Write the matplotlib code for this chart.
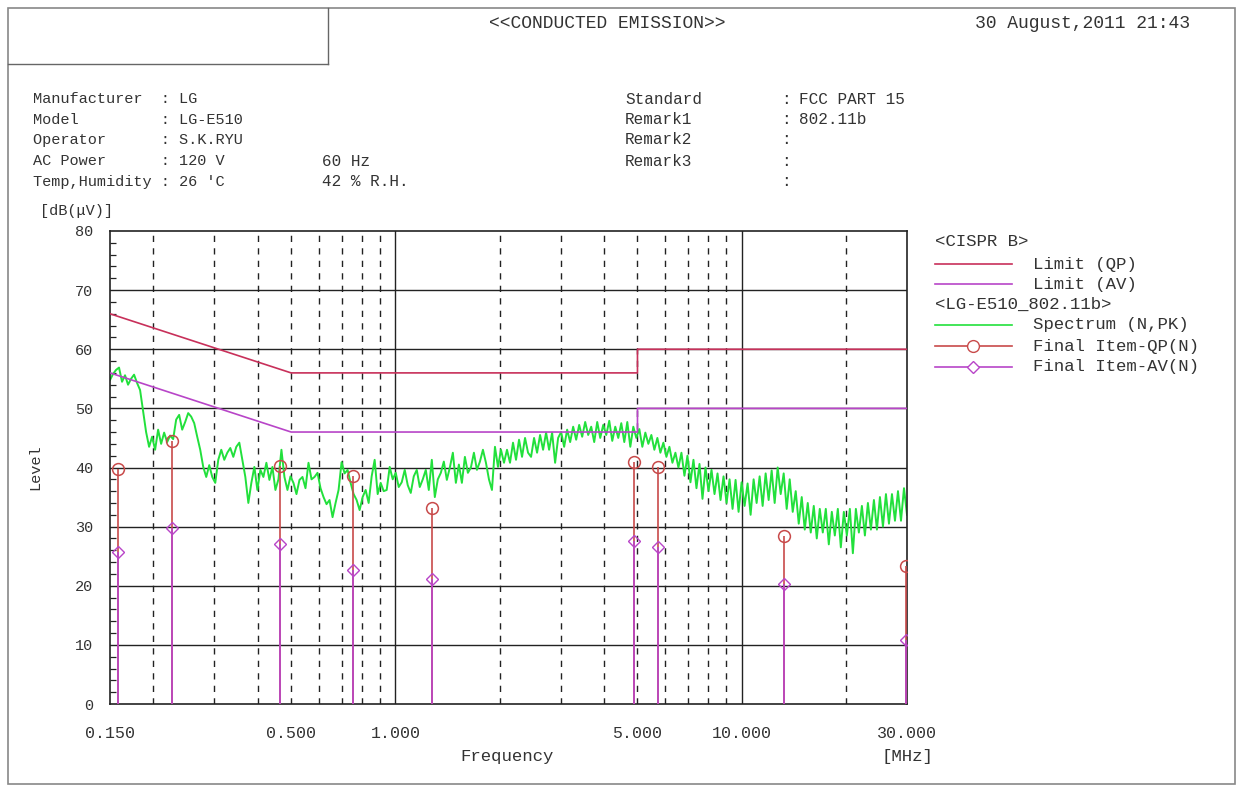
import numpy as np
import matplotlib
matplotlib.use("Agg")
import matplotlib.pyplot as plt
from matplotlib.lines import Line2D
from matplotlib.patches import Rectangle

plt.rcParams['font.family'] = ['Liberation Mono', 'DejaVu Sans Mono']

# limits (CISPR B)
limit_freq = [0.15, 0.5, 5.0, 5.0, 30.0]
limit_qp = [66, 56, 56, 60, 60]
limit_av = [56, 46, 46, 50, 50]

# final measurement items
final_freq = [0.158, 0.227, 0.465, 0.756, 1.277, 4.87, 5.72, 13.2, 29.8]
final_qp = [39.7, 44.4, 40.3, 38.5, 33.2, 41.0, 40.1, 28.4, 23.4]
final_av = [25.7, 29.7, 27.1, 22.7, 21.1, 27.6, 26.5, 20.3, 10.9]

# spectrum sweep 0.15 - 30 MHz (peak, N)
spec_start, spec_stop = 0.15, 30.0
spec_level = [
    54.8, 55.8, 56.5, 56.9, 54.5, 55.6, 54.0, 55.0, 55.7, 54.3,
    53.1, 49.5, 46.0, 43.5, 45.2, 43.0, 46.4, 44.0, 45.9, 44.3,
    45.4, 44.8, 48.1, 48.9, 46.4, 47.7, 49.2, 48.6, 47.5, 45.2,
    43.0, 40.1, 38.4, 40.4, 38.4, 37.4, 41.3, 43.0, 41.3, 42.5,
    43.3, 41.8, 43.5, 44.2, 41.3, 38.4, 34.0, 37.4, 40.1, 36.2,
    39.6, 38.4, 40.8, 37.9, 40.1, 36.2, 38.0, 43.0, 38.4, 36.2,
    38.5, 37.4, 35.5, 37.9, 38.4, 36.5, 40.8, 38.0, 38.4, 39.1,
    36.5, 35.0, 33.8, 34.5, 31.6, 34.0, 36.2, 40.9, 39.0, 39.6,
    37.4, 35.5, 34.5, 32.8, 35.0, 36.2, 34.0, 38.5, 41.3, 35.5,
    37.4, 36.0, 36.2, 40.1, 38.0, 39.1, 36.7, 37.5, 39.6, 37.0,
    35.7, 38.5, 39.6, 36.7, 38.0, 39.6, 36.2, 41.3, 35.0, 38.0,
    39.1, 41.0, 37.9, 40.0, 42.5, 37.4, 40.5, 37.4, 41.8, 39.1,
    40.0, 42.5, 39.6, 41.0, 43.0, 40.8, 38.0, 36.2, 43.5, 40.1,
    43.0, 40.8, 43.0, 40.8, 44.2, 41.3, 44.7, 41.8, 45.0, 42.5,
    41.8, 45.0, 42.5, 45.5, 43.0, 45.9, 43.0, 45.9, 40.8, 45.0,
    46.0, 43.5, 46.4, 44.3, 46.9, 44.7, 47.2, 45.2, 47.7, 45.5,
    46.9, 44.3, 47.7, 45.0, 47.2, 45.5, 47.9, 44.5, 46.9, 45.0,
    47.5, 44.3, 47.7, 43.5, 46.9, 45.0, 46.5, 43.5, 45.9, 44.0,
    45.5, 43.0, 45.0, 42.5, 44.2, 41.8, 43.5, 40.8, 42.5, 40.0,
    42.5, 38.6, 42.0, 37.5, 41.3, 36.5, 40.6, 34.7, 40.0, 36.0,
    39.6, 35.5, 39.0, 34.5, 38.5, 34.0, 38.0, 33.0, 37.9, 32.5,
    37.5, 33.5, 37.3, 32.0, 38.0, 34.0, 38.5, 33.5, 39.0, 34.5,
    39.5, 34.0, 40.0, 35.5, 39.0, 33.0, 38.0, 32.5, 36.0, 30.5,
    35.0, 29.5, 34.0, 29.0, 33.5, 28.0, 33.0, 29.0, 33.0, 27.0,
    32.5, 28.5, 33.0, 26.5, 32.5, 28.5, 33.0, 25.5, 33.0, 29.0,
    33.5, 28.5, 34.0, 29.5, 34.5, 29.5, 35.0, 30.0, 35.5, 30.5,
    35.5, 31.0, 36.0, 31.0, 36.5, 32.0,
]
spec_freq = np.geomspace(spec_start, spec_stop, len(spec_level))

xtick_vals = [0.15, 0.5, 1.0, 5.0, 10.0, 30.0]
xtick_labels = ['0.150', '0.500', '1.000', '5.000', '10.000', '30.000']
solid_vlines = [1.0, 10.0]
dashed_vlines = [0.2, 0.3, 0.4, 0.5, 0.6, 0.7, 0.8, 0.9,
                 2, 3, 4, 5, 6, 7, 8, 9, 20]

W, H = 1242, 786
QP_COL = '#c8305a'
AV_COL = '#b845c8'
STEM_QP = '#c84a4a'
GREEN = '#22e03c'
TXT = '#333333'


def fx(x):
    return x / W


def fy(y):
    return 1 - y / H


fig = plt.figure(figsize=(W / 100, H / 100), dpi=100)
ax = fig.add_axes([fx(110), fy(704), fx(907) - fx(110), fy(231) - fy(704)])

# grid
for v in range(10, 80, 10):
    ax.axhline(v, color='#222222', lw=1.0, zorder=1)
for f in solid_vlines:
    ax.axvline(f, color='#222222', lw=1.0, zorder=1)
for f in dashed_vlines:
    ax.axvline(f, color='#222222', lw=1.0, dashes=(4.5, 4.5), zorder=1)

# limits
ax.plot(limit_freq, limit_qp, color=QP_COL, lw=1.2, zorder=3)
ax.plot(limit_freq, limit_av, color=AV_COL, lw=1.2, zorder=3)

# spectrum
ax.plot(spec_freq, spec_level, color=GREEN, lw=1.4, zorder=2)

# final items
ax.vlines(final_freq, 0, final_qp, color=STEM_QP, lw=1.2, zorder=4)
ax.vlines(final_freq, 0, final_av, color=AV_COL, lw=1.2, zorder=4)
ax.plot(final_freq, final_qp, 'o', ms=8.5, mfc='none', mec=STEM_QP, mew=1.1, zorder=5)
ax.plot(final_freq, final_av, 'D', ms=6.5, mfc='none', mec=AV_COL, mew=1.0, zorder=5)

ax.set_xscale('log')
ax.set_xlim(0.15, 30)
ax.set_ylim(0, 80)
ax.set_xticks(xtick_vals)
ax.set_xticklabels(xtick_labels)
ax.xaxis.set_minor_locator(matplotlib.ticker.NullLocator())
ax.set_yticks(range(0, 81, 10))
ax.set_yticks(range(0, 81, 2), minor=True)
ax.tick_params(axis='x', length=0, pad=16, labelsize=12, labelcolor=TXT)
ax.tick_params(axis='y', which='major', length=0, pad=12, labelsize=11, labelcolor=TXT)
ax.tick_params(axis='y', which='minor', direction='in', length=4, width=0.9, color='#222222')
for s in ax.spines.values():
    s.set_color('#222222')
    s.set_linewidth(1.2)

# outer frame and header box
fig.add_artist(Rectangle((fx(8), fy(784)), fx(1235) - fx(8), fy(8) - fy(784),
                         transform=fig.transFigure, fill=False, ec='#888888', lw=1.2))
fig.add_artist(Line2D([fx(8), fx(328)], [fy(64), fy(64)], transform=fig.transFigure, color='#666666', lw=1.0))
fig.add_artist(Line2D([fx(328), fx(328)], [fy(8), fy(64)], transform=fig.transFigure, color='#666666', lw=1.0))

fig.text(fx(607), fy(24), '<<CONDUCTED EMISSION>>', ha='center', va='center', fontsize=13, color=TXT)
fig.text(fx(1190), fy(24), '30 August,2011 21:43', ha='right', va='center', fontsize=13, color=TXT)

left_rows = [('Manufacturer', 'LG', ''), ('Model', 'LG-E510', ''), ('Operator', 'S.K.RYU', ''),
             ('AC Power', '120 V', '60 Hz'), ('Temp,Humidity', "26 'C", '42 % R.H.')]
right_rows = [('Standard', 'FCC PART 15'), ('Remark1', '802.11b'), ('Remark2', ''),
              ('Remark3', ''), ('', '')]
row_y = [99, 119.5, 140, 161, 182]
for (k, v, v2), y in zip(left_rows, row_y):
    fig.text(fx(33), fy(y), f'{k:<14}: {v}', va='center', fontsize=11, color=TXT)
    fig.text(fx(322), fy(y), v2, va='center', fontsize=11.5, color=TXT)
for (k, v), y in zip(right_rows, row_y):
    fig.text(fx(625), fy(y), k, va='center', fontsize=11.5, color=TXT)
    fig.text(fx(781), fy(y), ':', va='center', fontsize=11.5, color=TXT)
    fig.text(fx(799), fy(y), v, va='center', fontsize=11.5, color=TXT)

fig.text(fx(40), fy(211), '[dB(\u03bcV)]', va='center', fontsize=11, color=TXT)
fig.text(fx(35), fy(467), 'Level', rotation=90, ha='center', va='center', fontsize=11, color=TXT)
fig.text(fx(507), fy(757), 'Frequency', ha='center', va='center', fontsize=12.5, color=TXT)
fig.text(fx(907), fy(757), '[MHz]', ha='center', va='center', fontsize=12.5, color=TXT)

# legend
fig.text(fx(935), fy(242), '<CISPR B>', va='center', fontsize=12.5, color=TXT)
fig.text(fx(935), fy(304), '<LG-E510_802.11b>', va='center', fontsize=12.5, color=TXT)
leg = [(264, 'Limit (QP)', QP_COL, None), (284, 'Limit (AV)', AV_COL, None),
       (325, 'Spectrum (N,PK)', GREEN, None), (346, 'Final Item-QP(N)', STEM_QP, 'o'),
       (367, 'Final Item-AV(N)', AV_COL, 'D')]
for y, lab, col, mk in leg:
    fig.add_artist(Line2D([fx(935), fx(1012)], [fy(y), fy(y)], transform=fig.transFigure, color=col, lw=1.2))
    if mk:
        fig.add_artist(Line2D([fx(973)], [fy(y)], transform=fig.transFigure, marker=mk,
                              ms=8.5 if mk == 'o' else 6.5, mfc='white', mec=col, mew=1.0))
    fig.text(fx(1033), fy(y), lab, va='center', fontsize=12.5, color=TXT)

fig.savefig('out.png', dpi=100)
